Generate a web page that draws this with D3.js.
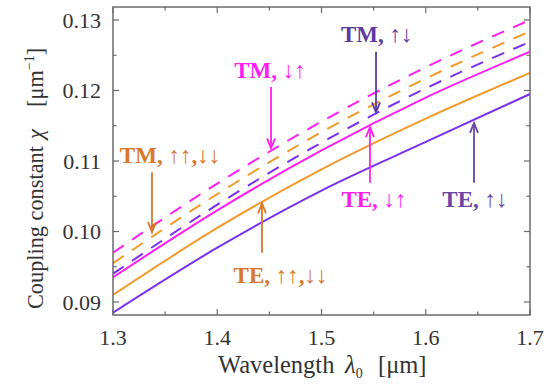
<!DOCTYPE html>
<html><head><meta charset="utf-8">
<script src="https://cdn.jsdelivr.net/npm/d3@7"></script>
<style>body{margin:0;background:#fff}svg{display:block}</style>
</head><body>
<svg id="c" width="552" height="385"></svg>
<script>
const wavelengths = [1.3, 1.4, 1.5, 1.6, 1.7];
const teUpDown   = [0.0885, 0.0977, 0.1058, 0.1127, 0.1195];
const teParallel = [0.0910, 0.1005, 0.1088, 0.1160, 0.1225];
const teDownUp   = [0.0935, 0.1030, 0.1115, 0.1190, 0.1255];
const tmUpDown   = [0.0940, 0.1038, 0.1126, 0.1203, 0.1269];
const tmParallel = [0.0955, 0.1053, 0.1141, 0.1217, 0.1284];
const tmDownUp   = [0.0970, 0.1068, 0.1156, 0.1233, 0.1300];
const xTicks = [1.3, 1.4, 1.5, 1.6, 1.7];
const yTicks = [0.09, 0.10, 0.11, 0.12, 0.13];

const PURPLE = "#7a30ee", ORANGE = "#f39a2c", MAGENTA = "#ff1ef0";
const series = [
  {v: teUpDown, c: PURPLE, dash: null},
  {v: teParallel, c: ORANGE, dash: null},
  {v: teDownUp, c: MAGENTA, dash: null},
  {v: tmUpDown, c: PURPLE, dash: "13,10"},
  {v: tmParallel, c: ORANGE, dash: "13,10"},
  {v: tmDownUp, c: MAGENTA, dash: "13,10"}
];
const annLabels = ["TM, ↑↓", "TM, ↓↑", "TM, ↑↑,↓↓", "TE, ↓↑", "TE, ↑↓", "TE, ↑↑,↓↓"];
const annColors = ["#5d3aa0", "#ff1ef0", "#d9772a", "#ff1ef0", "#6a45a5", "#d9772a"];
const annX      = [1.5523, 1.4516, 1.3374, 1.5465, 1.6463, 1.4429];
const annTipY   = [0.1169, 0.1118, 0.0999, 0.1148, 0.1154, 0.1040];
const annTailY  = [0.1255, 0.1205, 0.1084, 0.1069, 0.1069, 0.0970];
const annTextX  = [1.553, 1.4506, 1.3547, 1.5504, 1.6472, 1.4607];
const annTextY  = [0.1269, 0.1218, 0.1097, 0.1035, 0.1035, 0.0927];

const svg = d3.select("#c");
const L = 113, R = 530, T = 7, B = 315;
const x = d3.scaleLinear().domain([1.3, 1.7]).range([L, R]);
const y = d3.scaleLinear().domain([0.09, 0.13]).range([302, 20]);

const serif = "'Liberation Serif','Times New Roman',Times,serif";
const frameColor = "#6b6b6b";
const textColor = "#333";

const clip = svg.append("clipPath").attr("id", "cp").append("rect")
  .attr("x", L).attr("y", T).attr("width", R - L).attr("height", B - T);
const line = d3.line().x((d, i) => x(wavelengths[i])).y(d => y(d)).curve(d3.curveMonotoneX);
const g = svg.append("g").attr("clip-path", "url(#cp)");
series.forEach(s => {
  g.append("path").attr("d", line(s.v)).attr("fill", "none")
    .attr("stroke", s.c).attr("stroke-width", 2)
    .attr("stroke-dasharray", s.dash);
});

svg.append("rect").attr("x", L).attr("y", T).attr("width", R - L).attr("height", B - T)
  .attr("fill", "none").attr("stroke", frameColor).attr("stroke-width", 1.5);

const xMinor = d3.range(1.35, 1.7, 0.1);
const yMinor = d3.range(0.085, 0.135, 0.01).filter(v => y(v) > T && y(v) < B);
const tk = svg.append("g").attr("stroke", frameColor).attr("stroke-width", 1.2);
xTicks.concat(xMinor).forEach((v, i) => {
  const len = i < xTicks.length ? 6 : 3.5;
  tk.append("line").attr("x1", x(v)).attr("x2", x(v)).attr("y1", B).attr("y2", B - len);
  tk.append("line").attr("x1", x(v)).attr("x2", x(v)).attr("y1", T).attr("y2", T + len);
});
yTicks.concat(yMinor).forEach((v, i) => {
  const len = i < yTicks.length ? 6 : 3.5;
  tk.append("line").attr("y1", y(v)).attr("y2", y(v)).attr("x1", L).attr("x2", L + len);
  tk.append("line").attr("y1", y(v)).attr("y2", y(v)).attr("x1", R).attr("x2", R - len);
});

svg.append("g").selectAll("text").data(xTicks).join("text")
  .attr("x", d => x(d)).attr("y", 345).attr("text-anchor", "middle")
  .attr("font-family", serif).attr("font-size", 22).attr("fill", textColor)
  .text(d => d.toFixed(1));
svg.append("g").selectAll("text").data(yTicks).join("text")
  .attr("x", 101).attr("y", d => y(d) + 7.5).attr("text-anchor", "end")
  .attr("font-family", serif).attr("font-size", 22).attr("fill", textColor)
  .text(d => d.toFixed(2));

// x title
const xt = svg.append("text").attr("y", 373)
  .attr("font-family", serif).attr("font-size", 24.5).attr("fill", textColor);
xt.append("tspan").attr("x", 218).text("Wavelength");
xt.append("tspan").attr("x", 345).attr("font-style", "italic").text("λ");
xt.append("tspan").attr("font-size", 14).attr("dy", 5).text("0");
xt.append("tspan").attr("x", 378).attr("dy", -5).text("[μm]");

// y title (rotated: text x = -pageY)
const yt = svg.append("text").attr("transform", "translate(43,0) rotate(-90)")
  .attr("font-family", serif).attr("font-size", 22.3).attr("fill", textColor);
yt.append("tspan").attr("x", -309).text("Coupling constant");
yt.append("tspan").attr("x", -139).attr("font-style", "italic").text("χ");
yt.append("tspan").attr("x", -107).text("[μm");
yt.append("tspan").attr("font-size", 14).attr("dy", -9).text("−1");
yt.append("tspan").attr("dy", 9).text("]");

const ag = svg.append("g");
annLabels.forEach((lab, i) => {
  const c = annColors[i];
  const ax = x(annX[i]), ty = y(annTipY[i]), ly = y(annTailY[i]);
  ag.append("line").attr("x1", ax).attr("x2", ax).attr("y1", ly).attr("y2", ty)
    .attr("stroke", c).attr("stroke-width", 1.8);
  const dir = ty > ly ? -1 : 1;
  ag.append("path").attr("d", `M${ax - 4},${ty + dir * 10}L${ax},${ty}L${ax + 4},${ty + dir * 10}`)
    .attr("fill", "none").attr("stroke", c).attr("stroke-width", 1.8);
  ag.append("text").attr("x", x(annTextX[i])).attr("y", y(annTextY[i]))
    .attr("text-anchor", "middle").attr("font-family", serif).attr("font-weight", "bold")
    .attr("font-size", 23).attr("fill", c).text(lab);
});
</script>
</body></html>
